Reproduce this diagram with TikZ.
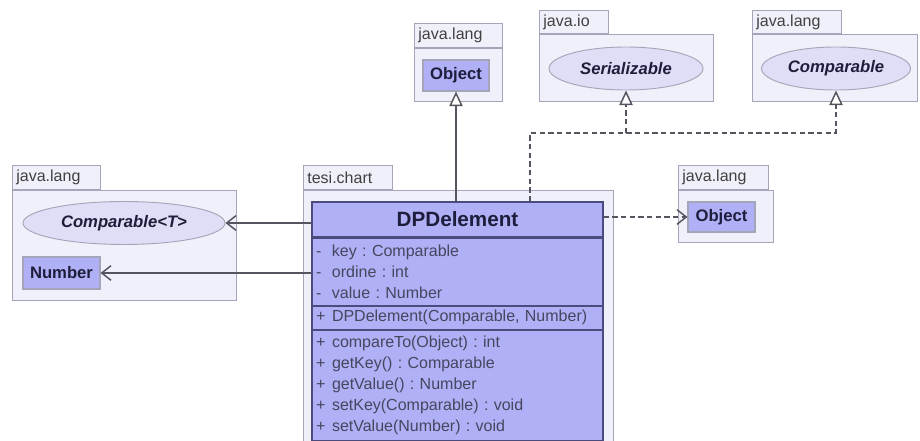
\documentclass[tikz,border=0pt]{standalone}
\usepackage{fontspec}
\setmainfont{Liberation Sans}
\usetikzlibrary{arrows.meta,positioning,shapes.geometric}
\definecolor{umlpkg}{RGB}{240,240,250}
\definecolor{umlpkgline}{RGB}{165,165,185}
\definecolor{umlclass}{RGB}{176,176,246}
\definecolor{umlclassline}{RGB}{75,75,125}
\definecolor{umlitf}{RGB}{222,222,246}
\definecolor{umltext}{RGB}{30,30,60}
\definecolor{umlmember}{RGB}{70,70,95}
\definecolor{umlarrow}{RGB}{85,85,95}
\newcommand{\vis}[1]{\makebox[12pt][l]{#1}}
\frenchspacing

\begin{document}
\begin{tikzpicture}[x=0.75pt, y=-0.75pt,
  every node/.style={font=\fontsize{12}{15.75}\selectfont, text=umltext},
  pkgbody/.style={draw=umlpkgline, fill=umlpkg, line width=0.6pt, anchor=north west, inner sep=0pt},
  pkgtab/.style={draw=umlpkgline, fill=umlpkg, line width=0.6pt, inner xsep=3pt, inner ysep=0pt, minimum height=18pt, align=left, font=\fontsize{12}{13}\selectfont, text=black!75},
  cls/.style={draw=umlclassline, fill=umlclass, line width=0.8pt, inner sep=0pt, font=\fontsize{12.5}{15}\selectfont\bfseries},
  itf/.style={ellipse, draw=umlpkgline, fill=umlitf, line width=0.7pt, inner sep=0pt, minimum height=32.25pt, font=\fontsize{12.5}{15}\selectfont\bfseries\itshape},
  member/.style={draw=umlclassline, fill=umlclass, line width=0.8pt, text width=212.25pt, align=left, inner xsep=3pt, inner ysep=0pt, text=umlmember},
  assoc/.style={draw=umlarrow, line width=1.1pt, -{Straight Barb[length=7pt,width=11pt]}},
  inherit/.style={draw=umlarrow, line width=1.1pt, -{Triangle[length=11pt,width=10pt,fill=white]}},
  realize/.style={inherit, dash pattern=on 4pt off 2.5pt},
  depend/.style={assoc, dash pattern=on 4pt off 2.5pt}]
\clip (0,0) rectangle (920,441);

% packages
\node[pkgbody, minimum width=168pt, minimum height=82.5pt] (pkgL) at (12,190) {};
\node[pkgtab, text width=60pt, above right=0pt and 0pt of pkgL.north west] (tabL) {java.lang};
\node[pkgbody, minimum width=232.5pt, minimum height=200pt] (pkgC) at (303,190) {};
\node[pkgtab, text width=60.75pt, above right=0pt and 0pt of pkgC.north west] (tabC) {tesi.chart};
\node[pkgbody, minimum width=66pt, minimum height=39.75pt] (pkgT) at (414,48) {};
\node[pkgtab, text width=60pt, above right=0pt and 0pt of pkgT.north west] (tabT) {java.lang};
\node[pkgbody, minimum width=130.5pt, minimum height=50.25pt] (pkgIO) at (539,34) {};
\node[pkgtab, text width=45.75pt, minimum height=17.25pt, above right=0pt and 0pt of pkgIO.north west] (tabIO) {java.io};
\node[pkgbody, minimum width=123.75pt, minimum height=50.25pt] (pkgK) at (752,34) {};
\node[pkgtab, text width=60.75pt, minimum height=17.25pt, above right=0pt and 0pt of pkgK.north west] (tabK) {java.lang};
\node[pkgbody, minimum width=71.25pt, minimum height=39pt] (pkgR) at (678,190) {};
\node[pkgtab, text width=61.5pt, above right=0pt and 0pt of pkgR.north west] (tabR) {java.lang};

% referenced types
\node[itf, minimum width=151.5pt] (cmpT) at (124,223) {Comparable<T>};
\node[cls, draw=umlpkgline, minimum width=57.75pt, minimum height=24pt] (num) at (61.5,273) {Number};
\node[cls, draw=umlpkgline, minimum width=49.5pt, minimum height=23.25pt] (objT) at (456,75.5) {Object};
\node[itf, minimum width=115.5pt] (ser) at (626,68.5) {Serializable};
\node[itf, minimum width=111.75pt] (cmp) at (836,68.5) {Comparable};
\node[cls, draw=umlpkgline, minimum width=50.25pt, minimum height=22.5pt] (objR) at (721.5,217) {Object};

% the class
\node[cls, minimum width=218.25pt, minimum height=26.25pt, font=\fontsize{15.5}{18}\selectfont\bfseries] (title) at (457.5,219.5) {DPDelement};
\node[member, minimum height=50.25pt, below=0pt of title] (attrs) {\vis{-}key : Comparable\\\vis{-}ordine : int\\\vis{-}value : Number};
\node[member, minimum height=17.25pt, below=0pt of attrs] (ctor) {\vis{+}DPDelement(Comparable, Number)};
\node[member, minimum height=82.5pt, below=0pt of ctor] (ops) {\vis{+}compareTo(Object) : int\\\vis{+}getKey() : Comparable\\\vis{+}getValue() : Number\\\vis{+}setKey(Comparable) : void\\\vis{+}setValue(Number) : void};

% connectors
\coordinate (jn) at (530,133);
\draw[assoc] (title.west |- cmpT) -- (cmpT);
\draw[assoc] (attrs.west |- num) -- (num);
\draw[inherit] (title.north -| objT) -- (objT);
\draw[realize] (title.north -| jn) -- (jn) -| (cmp.south);
\draw[realize] (jn -| ser) -- (ser.south);
\draw[depend] (title.east |- objR) -- (objR);
\end{tikzpicture}
\end{document}
